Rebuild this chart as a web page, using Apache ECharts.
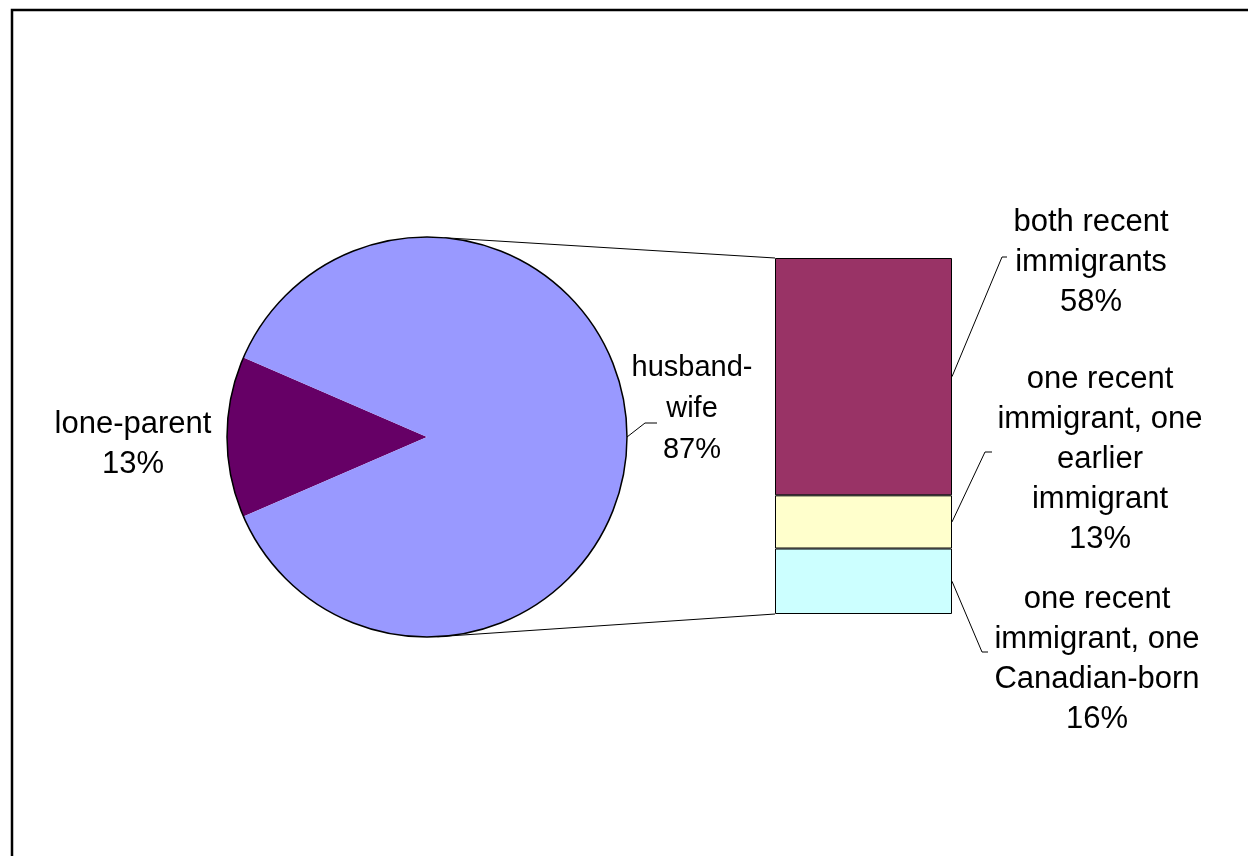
<!DOCTYPE html>
<html>
<head>
<meta charset="utf-8">
<script src="https://cdn.jsdelivr.net/npm/echarts@6/dist/echarts.min.js"></script>
<style>
html, body { margin: 0; padding: 0; background: #fff; }
#main { width: 1248px; height: 856px; }
</style>
</head>
<body>
<div id="main"></div>
<script>
// pie: family type
var pieNames = ['lone-parent', 'husband-wife'];
var pieTexts = ['lone-parent', 'husband-\nwife'];
var pieValues = [13, 87];

// bar: split of husband-wife, listed bottom to top
var barNames = ['one recent immigrant, one Canadian-born', 'one recent immigrant, one earlier immigrant', 'both recent immigrants'];
var barTexts = ['one recent\nimmigrant, one\nCanadian-born', 'one recent\nimmigrant, one\nearlier\nimmigrant', 'both recent\nimmigrants'];
var barValues = [16, 13, 58];

var pieColors = ['#660066', '#9999FF'];
var barColors = ['#CCFFFF', '#FFFFCC', '#993366'];

// layout
var PIE_C = [427, 437], PIE_R = 200;
var BAR_L = 775, BAR_T = 258, BAR_W = 177, BAR_H = 356;
var pieLabelPos = [[133, 444], [692, 409]];
var pieLabelSize = [31, 29];
var barLabelPos = [[1097, 659], [1100, 459], [1091, 262]];
// leader elbows [x, y, endX]
var barElbow = [[982, 652, 988], [985, 452, 992], [1002, 257, 1007]];
var pieElbow = [null, [645, 423, 657]];

var FONT = {fontFamily: 'Liberation Sans, Arial, sans-serif', fontSize: 31, lineHeight: 40, color: '#000'};

var chart = echarts.init(document.getElementById('main'));

var total = pieValues.reduce(function(a, b) { return a + b; }, 0);
var startAngle = 180 + pieValues[0] / total * 360 / 2;

var barSum = barValues.reduce(function(a, b) { return a + b; }, 0);

var series = [{
	type: 'pie',
	center: PIE_C,
	radius: PIE_R,
	startAngle: startAngle,
	clockwise: true,
	silent: true,
	z: 2,
	data: pieNames.map(function(n, i) {
		return {
			name: n, value: pieValues[i],
			itemStyle: {color: pieColors[i]},
			label: {fontSize: pieLabelSize[i], lineHeight: i ? 41 : 40}
		};
	}),
	itemStyle: {borderWidth: 0},
	label: Object.assign({
		position: 'outside',
		formatter: function(p) { return pieTexts[p.dataIndex] + '\n' + p.value + '%'; }
	}, FONT),
	labelLine: {show: false},
	labelLayout: function(p) {
		var pos = pieLabelPos[p.dataIndex];
		return {x: pos[0], y: pos[1], align: 'center', verticalAlign: 'middle'};
	}
}, {
	// outline of the pie
	type: 'pie',
	center: PIE_C,
	radius: PIE_R,
	silent: true,
	z: 3,
	data: [{value: 1}],
	itemStyle: {color: 'rgba(0,0,0,0)', borderColor: '#000', borderWidth: 1.5},
	label: {show: false},
	labelLine: {show: false}
}];

barValues.forEach(function(v, i) {
	series.push({
		type: 'bar',
		name: barNames[i],
		stack: 'hw',
		barWidth: '100%',
		silent: true,
		data: [v],
		itemStyle: {color: barColors[i], borderColor: '#000', borderWidth: 1},
		label: Object.assign({
			show: true,
			position: 'inside',
			formatter: function(p) { return barTexts[i] + '\n' + p.value + '%'; }
		}, FONT),
		labelLayout: function() {
			return {x: barLabelPos[i][0], y: barLabelPos[i][1], align: 'center', verticalAlign: 'middle'};
		}
	});
});

chart.setOption({
	animation: false,
	backgroundColor: '#fff',
	grid: {left: BAR_L, top: BAR_T, width: BAR_W, height: BAR_H},
	xAxis: {type: 'category', data: ['husband-wife'], show: false},
	yAxis: {type: 'value', min: 0, max: barSum, show: false},
	series: series
});

// frame, connector and leader lines
var lineStyle = {stroke: '#000', lineWidth: 1, fill: null};
var graphics = [{
	type: 'rect',
	shape: {x: 12, y: 10, width: 1300, height: 900},
	style: {fill: null, stroke: '#000', lineWidth: 2.5},
	silent: true
}];

function piePoint(deg) {
	var a = deg * Math.PI / 180;
	return [PIE_C[0] + PIE_R * Math.cos(a), PIE_C[1] - PIE_R * Math.sin(a)];
}

var barTop = chart.convertToPixel({xAxisIndex: 0, yAxisIndex: 0}, [0, barSum]);
var barBottom = chart.convertToPixel({xAxisIndex: 0, yAxisIndex: 0}, [0, 0]);
graphics.push({type: 'polyline', shape: {points: [piePoint(85), [BAR_L, barTop[1]]]}, style: lineStyle, silent: true});
graphics.push({type: 'polyline', shape: {points: [piePoint(-87), [BAR_L, barBottom[1]]]}, style: lineStyle, silent: true});

var cum = 0;
barValues.forEach(function(v, i) {
	var mid = chart.convertToPixel({xAxisIndex: 0, yAxisIndex: 0}, [0, cum + v / 2]);
	cum += v;
	var e = barElbow[i];
	graphics.push({
		type: 'polyline',
		shape: {points: [[BAR_L + BAR_W, mid[1]], [e[0], e[1]], [e[2], e[1]]]},
		style: lineStyle, silent: true
	});
});

var acc = 0;
pieValues.forEach(function(v, i) {
	var midDeg = startAngle - (acc + v / 2) / total * 360;
	acc += v;
	var e = pieElbow[i];
	if (!e) return;
	graphics.push({
		type: 'polyline',
		shape: {points: [piePoint(midDeg), [e[0], e[1]], [e[2], e[1]]]},
		style: lineStyle, silent: true
	});
});

chart.setOption({graphic: graphics});
</script>
</body>
</html>
